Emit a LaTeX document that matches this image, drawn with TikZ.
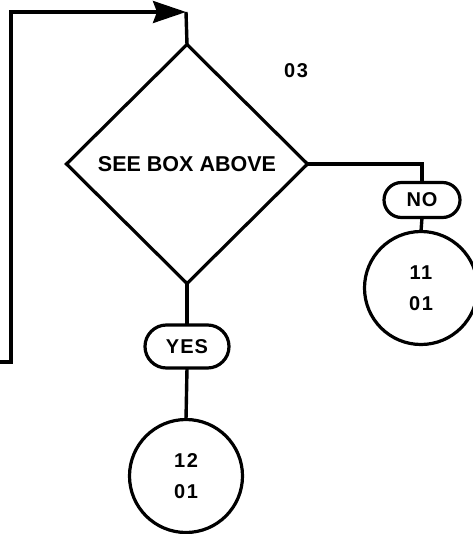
\documentclass[tikz,border=0pt]{standalone}
\usepackage{fontspec}
\setmainfont{Liberation Sans}
\newfontfamily\digfont{Liberation Sans}[LetterSpace=8]
\newfontfamily\labfont{Liberation Sans}[LetterSpace=5]
\usetikzlibrary{shapes.geometric,shapes.misc,arrows.meta}
\begin{document}
\begin{tikzpicture}[x=1pt,y=-1pt,
  every node/.style={inner sep=0pt, outer sep=0pt},
  ln/.style={line width=3.4pt, line join=miter},
  decision/.style={diamond, draw, line width=3.2pt, aspect=1, minimum width=241pt, minimum height=239pt,
    font=\fontsize{21.5}{24}\selectfont\bfseries},
  answer/.style={rounded rectangle, draw, line width=3.2pt, font=\labfont\fontsize{20}{20}\selectfont\bfseries},
  connector/.style={circle, draw, line width=3.2pt, minimum size=113pt, align=center,
    font=\digfont\fontsize{20}{31.5}\selectfont\bfseries}]
\useasboundingbox (0,0) rectangle (472,534);
% nodes
\node[decision] (d) at (187,164) {SEE BOX ABOVE};
\node[font=\digfont\fontsize{20}{22}\selectfont\bfseries] (code) at (296,71) {03};
\node[answer, minimum width=76pt, minimum height=35pt] (no) at (422,200) {NO};
\node[connector] (c11) at (421,288) {11\\01};
\node[answer, minimum width=84pt, minimum height=43pt] (yes) at (187,346.5) {YES};
\node[connector] (c12) at (186,476) {12\\01};
% connectors
\coordinate (s) at (0,362);
\coordinate (bl) at (11,362);
\coordinate (tl) at (11,12);
\coordinate (tr) at (186,12);
\draw[ln, -{Stealth[length=33pt,width=22pt,inset=4pt]}] (s) -- (bl) -- (tl) -- (tr);
\draw[ln] (tr) -- (d.north);
\draw[ln] (d.east) -| (no.north);
\draw[ln] (no.south) -- (c11.north);
\draw[ln] (d.south) -- (yes.north);
\draw[ln] (yes.south) -- (c12.north);
\end{tikzpicture}
\end{document}
